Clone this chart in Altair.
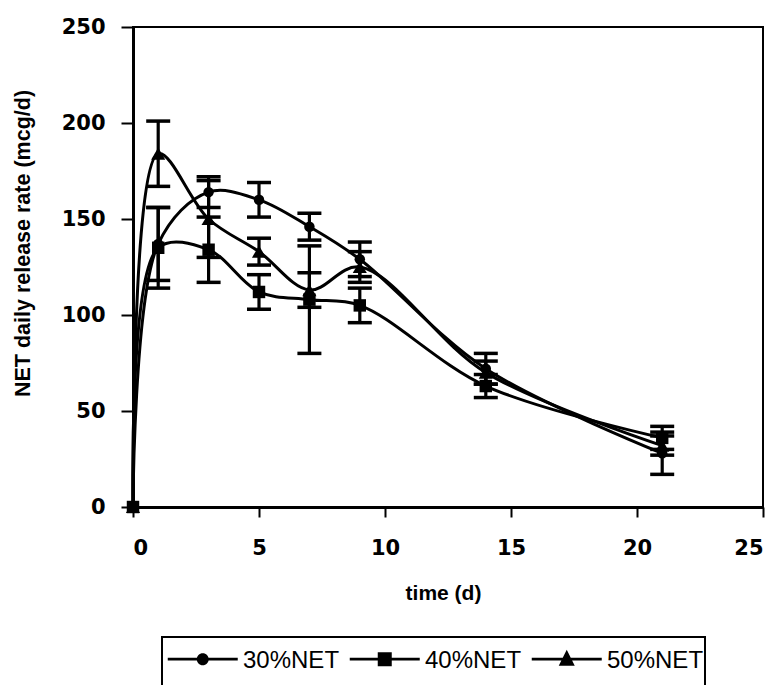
import altair as alt
import pandas as pd

# ---- data ----
days = [0, 1, 3, 5, 7, 9, 14, 21]
series_names = ["30%NET", "40%NET", "50%NET"]
net30 = [0, 137, 164, 160, 146, 129, 72, 28]
net30_err = [0, 19, 8, 9, 7, 9, 8, 11]
net40 = [0, 135, 134, 112, 108, 105, 63, 36]
net40_err = [0, 21, 17, 9, 28, 9, 6, 6]
net50 = [0, 184, 150, 133, 113, 125, 70, 32]
net50_err = [0, 17, 20, 7, 9, 8, 6, 5]
x_ticks = [0, 5, 10, 15, 20, 25]
y_ticks = [0, 50, 100, 150, 200, 250]

rows = []
for name, vals, errs in zip(series_names, [net30, net40, net50], [net30_err, net40_err, net50_err]):
    for d, v, e in zip(days, vals, errs):
        rows.append({"series": name, "day": d, "rate": v, "err": e, "lo": v - e, "hi": v + e})
df = pd.DataFrame(rows)

# ---- legend symbols: a line with the marker on it (custom SVG paths) ----
LEG_SIZE = 3249.0
S = (LEG_SIZE ** 0.5) / 2.0
DX, DY = 10.25, -8.6
LX0, LX1 = -24.75, 45.25
LW = 1.4  # half thickness of the legend line


def u(v):
    return f"{v / S:.4f}"


def line_part():
    # thin filled bar for the line, plus a zero-width segment that extends the legend box downward
    return (f"M{u(LX0)},{u(DY - LW)}L{u(LX1)},{u(DY - LW)}L{u(LX1)},{u(DY + LW)}"
            f"L{u(LX0)},{u(DY + LW)}Z"
            f"M{u(DX)},{u(45)}L{u(DX)},{u(45)}")


def circle_path(r=6):
    return (line_part() + f"M{u(DX - r)},{u(DY)}A{u(r)},{u(r)} 0 1,1 {u(DX + r)},{u(DY)}"
            f"A{u(r)},{u(r)} 0 1,1 {u(DX - r)},{u(DY)}Z")


def square_path(a=7):
    return (line_part() + f"M{u(DX - a)},{u(DY - a)}L{u(DX + a)},{u(DY - a)}"
            f"L{u(DX + a)},{u(DY + a)}L{u(DX - a)},{u(DY + a)}Z")


def triangle_path(w=8, top=9.5, bot=6.5):
    return (line_part() + f"M{u(DX)},{u(DY - top)}L{u(DX + w)},{u(DY + bot)}"
            f"L{u(DX - w)},{u(DY + bot)}Z")


legend_paths = [circle_path(), square_path(), triangle_path()]

x_enc = alt.X("day:Q", scale=alt.Scale(domain=[0, 25], nice=False),
              axis=alt.Axis(values=x_ticks, title="time (d)", format="d",
                            titleX=310, titleY=86, titleBaseline="middle",
                            titleFont="Liberation Sans", titleFontSize=21, titleFontWeight="bold",
                            labelFont="DejaVu Sans", labelFontSize=21, labelFontWeight="bold",
                            labelBaseline="middle", labelPadding=31, tickSize=10))
y_enc = alt.Y("rate:Q", scale=alt.Scale(domain=[0, 250], nice=False),
              axis=alt.Axis(values=y_ticks, title="NET daily release rate (mcg/d)", format="d",
                            titleAngle=-90, titleX=-110, titleY=216, titleAlign="center",
                            titleBaseline="middle",
                            titleFont="Liberation Sans", titleFontSize=21.5, titleFontWeight="bold",
                            labelFont="DejaVu Sans", labelFontSize=21, labelFontWeight="bold",
                            labelPadding=16, tickSize=12))

base = alt.Chart(df)

lines = base.mark_line(interpolate="catmull-rom", strokeWidth=3, color="black").encode(
    x=x_enc, y=y_enc, detail="series:N")

bars = base.transform_filter("datum.err > 0").mark_rule(strokeWidth=3.2, color="black").encode(
    x="day:Q", y="lo:Q", y2="hi:Q")
cap_hi = base.transform_filter("datum.err > 0").mark_tick(
    orient="horizontal", size=24, thickness=3.5, color="black", opacity=1).encode(x="day:Q", y="hi:Q")
cap_lo = base.transform_filter("datum.err > 0").mark_tick(
    orient="horizontal", size=24, thickness=3.5, color="black", opacity=1).encode(x="day:Q", y="lo:Q")

points = base.mark_point(filled=True, opacity=1, color="black").encode(
    x="day:Q", y="rate:Q",
    shape=alt.Shape("series:N", scale=alt.Scale(domain=series_names,
                                                range=["circle", "square", "triangle-up"]),
                    legend=None),
    size=alt.Size("series:N", scale=alt.Scale(domain=series_names, range=[110, 200, 210]),
                  legend=None),
)

legend_layer = base.transform_filter("false").mark_point(
    filled=True, opacity=1, color="black").encode(
    x="day:Q", y="rate:Q",
    shape=alt.Shape("series:N", title=None,
                    scale=alt.Scale(domain=series_names, range=legend_paths),
                    legend=alt.Legend(orient="none", legendX=29, legendY=610,
                                      direction="horizontal", title=None,
                                      symbolSize=LEG_SIZE, symbolFillColor="black",
                                      symbolOpacity=1,
                                      labelFont="Liberation Sans", labelFontSize=24,
                                      labelColor="black", labelBaseline="alphabetic",
                                      labelOffset=21, labelLimit=0, columnPadding=5,
                                      padding=1, strokeColor="black")),
)

chart = alt.layer(lines, bars, cap_hi, cap_lo, points, legend_layer).resolve_scale(
    shape="independent"
).properties(
    width=630, height=480,
    autosize=alt.AutoSizeParams(type="none"),
    padding={"left": 133, "top": 27, "right": 20, "bottom": 178},
    background="white",
).configure_view(
    stroke="black", strokeWidth=2
).configure_axis(
    grid=False, domainColor="black", domainWidth=3, tickColor="black", tickWidth=2,
    labelColor="black", titleColor="black"
).configure_legend(
    strokeWidth=2
)

chart.save("out.html", embed_options={"renderer": "svg", "actions": False})
